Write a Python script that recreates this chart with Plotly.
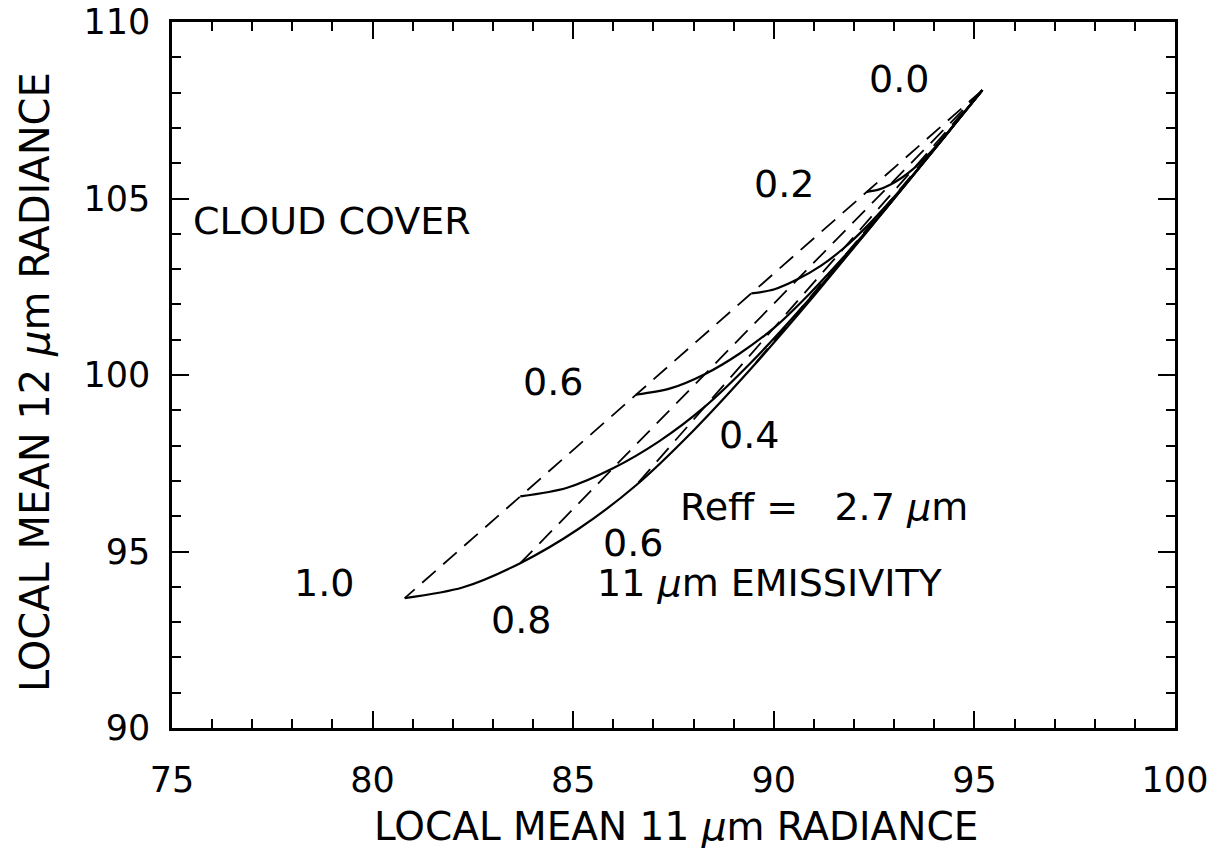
import plotly.graph_objects as go

# 11 um emissivity samples along each constant-cloud-cover curve
EMISSIVITY = [0.0, 0.1, 0.2, 0.3, 0.4, 0.5, 0.6, 0.7, 0.8, 0.9, 1.0]

# Local mean radiances (11 um on x, 12 um on y) for each cloud cover
COVER_00_X = [95.20] * 11
COVER_00_Y = [108.07] * 11

COVER_02_X = [95.20, 94.91, 94.62, 94.34, 94.05, 93.76, 93.47, 93.18, 92.90, 92.61, 92.32]
COVER_02_Y = [108.07, 107.67, 107.27, 106.87, 106.49, 106.14, 105.83, 105.58, 105.39, 105.25, 105.19]

COVER_04_X = [95.20, 94.62, 94.05, 93.47, 92.90, 92.32, 91.74, 91.17, 90.59, 90.02, 89.44]
COVER_04_Y = [108.07, 107.27, 106.47, 105.67, 104.92, 104.21, 103.59, 103.09, 102.71, 102.43, 102.31]

COVER_06_X = [95.20, 94.34, 93.47, 92.61, 91.74, 90.88, 90.02, 89.15, 88.29, 87.42, 86.56]
COVER_06_Y = [108.07, 106.86, 105.66, 104.48, 103.34, 102.29, 101.35, 100.61, 100.03, 99.62, 99.44]

COVER_08_X = [95.20, 94.05, 92.90, 91.74, 90.59, 89.44, 88.29, 87.14, 85.98, 84.83, 83.68]
COVER_08_Y = [108.07, 106.46, 104.86, 103.28, 101.77, 100.36, 99.11, 98.12, 97.35, 96.80, 96.56]

COVER_10_X = [95.20, 93.76, 92.32, 90.88, 89.44, 88.00, 86.56, 85.12, 83.68, 82.24, 80.80]
COVER_10_Y = [108.07, 106.06, 104.06, 102.08, 100.19, 98.43, 96.87, 95.63, 94.67, 93.98, 93.68]

CLOUD_COVER = [0.0, 0.2, 0.4, 0.6, 0.8, 1.0]
COVER_X = [COVER_00_X, COVER_02_X, COVER_04_X, COVER_06_X, COVER_08_X, COVER_10_X]
COVER_Y = [COVER_00_Y, COVER_02_Y, COVER_04_Y, COVER_06_Y, COVER_08_Y, COVER_10_Y]

# emissivities whose constant-emissivity (dashed) lines are drawn
DASHED_EMISSIVITY = [0.2, 0.4, 0.6, 0.8, 1.0]

X_TICKS = [75, 80, 85, 90, 95, 100]
Y_TICKS = [90, 95, 100, 105, 110]

FONT = "DejaVu Sans"
INK = "black"

fig = go.Figure()

# solid curves: fixed cloud cover, emissivity running from 0 to 1
for cover, xs, ys in zip(CLOUD_COVER[1:], COVER_X[1:], COVER_Y[1:]):
    fig.add_trace(go.Scatter(
        x=xs, y=ys, mode="lines",
        line=dict(color=INK, width=2.2, shape="spline", smoothing=0.8),
        hoverinfo="skip", showlegend=False,
    ))

# dashed lines: fixed emissivity, cloud cover running from 0 to 1
for e in DASHED_EMISSIVITY:
    k = EMISSIVITY.index(e)
    fig.add_trace(go.Scatter(
        x=[xs[k] for xs in COVER_X], y=[ys[k] for ys in COVER_Y], mode="lines",
        line=dict(color=INK, width=1.8, dash="18px,10px"),
        hoverinfo="skip", showlegend=False,
    ))

labels = [
    ("0.0", 93.11, 108.39),
    ("0.2", 90.25, 105.40),
    ("0.6", 84.50, 99.79),
    ("1.0", 78.80, 94.10),
    ("0.4", 89.37, 98.30),
    ("0.6", 86.48, 95.25),
    ("0.8", 83.70, 93.05),
    ("CLOUD COVER", 79.00, 104.37),
    ("Reff =\u00a0\u00a0 2.7 <i>\u03bc</i>m", 91.25, 96.25),
    ("11 <i>\u03bc</i>m EMISSIVITY", 89.91, 94.10),
]
for text, x, y in labels:
    fig.add_annotation(x=x, y=y, xref="x", yref="y", text=text, showarrow=False,
                       xanchor="center", yanchor="middle",
                       font=dict(family=FONT, size=38, color=INK))

fig.add_annotation(x=0.5025, y=-0.139, xref="paper", yref="paper",
                   text="LOCAL MEAN 11 <i>\u03bc</i>m RADIANCE", showarrow=False,
                   xanchor="center", yanchor="middle",
                   font=dict(family=FONT, size=39, color=INK))
fig.add_annotation(x=-0.1366, y=0.49, xref="paper", yref="paper",
                   text="LOCAL MEAN 12 <i>\u03bc</i>m RADIANCE", showarrow=False,
                   textangle=-90, xanchor="center", yanchor="middle",
                   font=dict(family=FONT, size=40, color=INK))

axis_common = dict(
    showline=True, linecolor=INK, linewidth=2.5, mirror="allticks",
    ticks="inside", ticklen=17, tickwidth=2, tickcolor=INK,
    minor=dict(ticks="inside", ticklen=9, tickwidth=2, tickcolor=INK, dtick=1, showgrid=False),
    showgrid=False, zeroline=False, ticklabeloverflow="allow", automargin=False,
    tickfont=dict(family=FONT, size=35, color=INK),
)

fig.update_xaxes(range=[75, 100], tickvals=X_TICKS, ticklabelstandoff=19, **axis_common)
fig.update_yaxes(range=[90, 110], tickvals=Y_TICKS, ticklabelstandoff=12, **axis_common)

fig.update_layout(
    width=1223, height=850,
    margin=dict(l=172, r=48, t=22, b=122),
    paper_bgcolor="white", plot_bgcolor="white",
    showlegend=False,
)

fig.write_html("out.html")
